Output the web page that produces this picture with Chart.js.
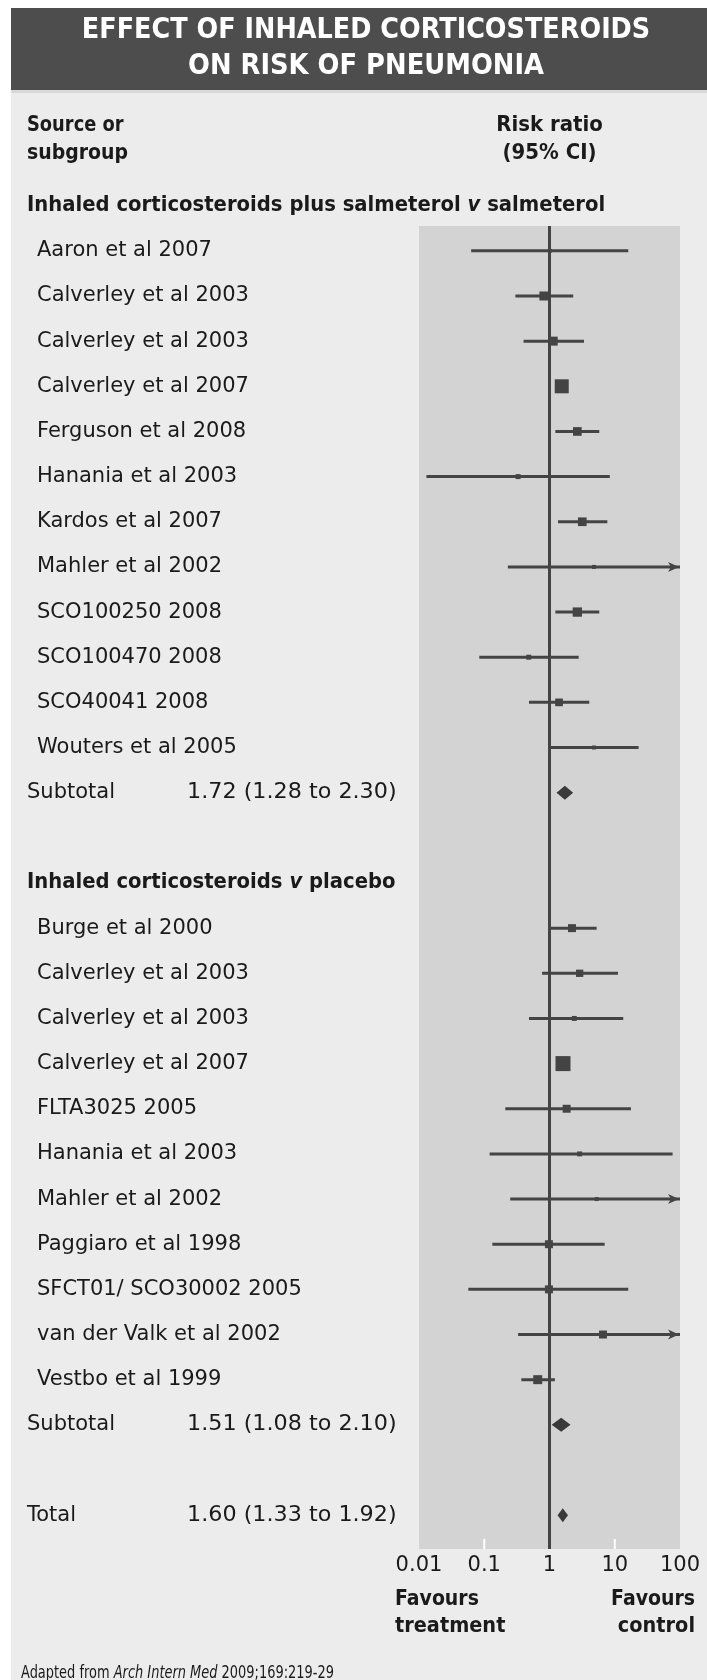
<!DOCTYPE html>
<html>
<head>
<meta charset="utf-8">
<script src="https://cdn.jsdelivr.net/npm/chart.js@4/dist/chart.umd.min.js"></script>
<style>
html,body{margin:0;padding:0;background:#fff}
canvas{display:block}
</style>
</head>
<body>
<canvas id="forest" width="707" height="1680"></canvas>
<script>
// values (risk ratio, lower and upper 95% CI, rough weight)
const groupTitles=[
[["Inhaled corticosteroids plus salmeterol ",0],["v",1],[" salmeterol",0]],
[["Inhaled corticosteroids ",0],["v",1],[" placebo",0]]
]

const group1Names=["Aaron et al 2007","Calverley et al 2003","Calverley et al 2003","Calverley et al 2007","Ferguson et al 2008","Hanania et al 2003","Kardos et al 2007","Mahler et al 2002","SCO100250 2008","SCO100470 2008","SCO40041 2008","Wouters et al 2005"]
const group1RR=[1.01,0.82,1.14,1.54,2.67,0.33,3.18,4.8,2.67,0.48,1.40,4.8]
const group1Lo=[0.063,0.30,0.40,1.30,1.23,0.013,1.35,0.23,1.23,0.084,0.485,1.0]
const group1Hi=[16.1,2.31,3.38,1.82,5.79,8.4,7.7,100,5.79,2.8,4.07,23.2]
const group1Weight=[1.1,5.6,5.6,13.6,5.2,1.7,5.2,1.1,6,1.7,4.1,1.1]

const group2Names=["Burge et al 2000","Calverley et al 2003","Calverley et al 2003","Calverley et al 2007","FLTA3025 2005","Hanania et al 2003","Mahler et al 2002","Paggiaro et al 1998","SFCT01/ SCO30002 2005","van der Valk et al 2002","Vestbo et al 1999"]
const group2RR=[2.21,2.9,2.4,1.61,1.83,2.9,5.28,0.98,0.98,6.6,0.66]
const group2Lo=[1.0,0.77,0.485,1.35,0.21,0.121,0.25,0.133,0.057,0.33,0.37]
const group2Hi=[5.28,11.2,13.5,1.95,17.7,77,100,7.0,16.1,100,1.21]
const group2Weight=[4.4,3.7,1.7,15.6,4.4,1.7,1.1,4.4,4.4,4.4,5.6]

const summaryLabels=["Subtotal","Subtotal","Total"]
const summaryRR=[1.72,1.51,1.60]
const summaryLo=[1.28,1.08,1.33]
const summaryHi=[2.30,2.10,1.92]

const tickValues=[0.01,0.1,1,10,100]
const tickLabels=["0.01","0.1","1","10","100"]

const names=[group1Names,group2Names]
const rr=[group1RR,group2RR]
const lo=[group1Lo,group2Lo]
const hi=[group1Hi,group2Hi]
const wt=[group1Weight,group2Weight]

const INK="#444"
const TEXT="#1a1a1a"
const REG='"DejaVu Sans", "Liberation Sans", sans-serif'

// row positions: header, studies, subtotal, blank line, next group..., total
let pos=-1
const layout=[]
groupTitles.forEach((g,gi)=>{
layout.push({kind:"head",y:pos,gi})
pos++
names[gi].forEach((n,i)=>{layout.push({kind:"study",y:pos,gi,i});pos++})
layout.push({kind:"sum",y:pos,si:gi})
pos+=2
})
layout.push({kind:"sum",y:pos,si:2})

const datasets=[]
const squares=[]
const squareSize=[]
layout.filter(r=>r.kind=="study").forEach(r=>{
datasets.push({
data:[{x:lo[r.gi][r.i],y:r.y},{x:hi[r.gi][r.i],y:r.y}],
showLine:true,borderColor:INK,borderWidth:3,pointRadius:0,borderCapStyle:"butt"
})
squares.push({x:rr[r.gi][r.i],y:r.y})
squareSize.push(3.8*Math.sqrt(wt[r.gi][r.i])/Math.SQRT2)
})
datasets.push({
data:squares,pointStyle:"rect",pointRadius:squareSize,
backgroundColor:INK,borderWidth:0
})

function txt(ctx,s,x,y,font,align,sx,color){
ctx.save()
ctx.font=font
ctx.fillStyle=color||TEXT
ctx.textAlign=align||"left"
ctx.textBaseline="middle"
ctx.translate(x,y)
ctx.scale(sx||1,1)
ctx.fillText(s,0,0)
ctx.restore()
}

function rich(ctx,parts,x,y,size,weight,sx,color){
let cx=x
parts.forEach(p=>{
let f=(p[1]?"italic ":"")+weight+" "+size+"px "+REG
txt(ctx,p[0],cx,y,f,"left",sx,color)
ctx.font=f
cx+=ctx.measureText(p[0]).width*sx
})
}

const forestPlugin={
id:"forest",
beforeDraw(chart){
const {ctx,chartArea:a,width,height}=chart
ctx.save()
ctx.fillStyle="#fff"
ctx.fillRect(0,0,width,height)
ctx.fillStyle="#ececec"
ctx.fillRect(11,8,width-11,height-8)
ctx.fillStyle="#4d4d4d"
ctx.fillRect(11,8,width-11,82)
ctx.fillStyle="#d8d8d8"
ctx.fillRect(11,90,width-11,3)
ctx.fillStyle="#d3d3d3"
ctx.fillRect(a.left,a.top,a.right-a.left,a.bottom-a.top)
ctx.restore()
},
beforeDatasetsDraw(chart){
const {ctx,chartArea:a,scales:{x}}=chart
ctx.save()
ctx.strokeStyle="#fff"
ctx.lineWidth=2
;[0.1,10].forEach(v=>{
let px=x.getPixelForValue(v)
ctx.beginPath()
ctx.moveTo(px,a.bottom-10)
ctx.lineTo(px,a.bottom)
ctx.stroke()
})
let p1=x.getPixelForValue(1)
ctx.strokeStyle=INK
ctx.lineWidth=3
ctx.beginPath()
ctx.moveTo(p1,a.top)
ctx.lineTo(p1,a.bottom)
ctx.stroke()
ctx.restore()
},
afterDatasetsDraw(chart){
const {ctx,scales:{x,y}}=chart
ctx.save()
ctx.fillStyle=INK
layout.forEach(r=>{
if(r.kind=="study"&&hi[r.gi][r.i]>=x.max){
let tx=x.getPixelForValue(x.max)-1
let ty=y.getPixelForValue(r.y)
ctx.beginPath()
ctx.moveTo(tx,ty)
ctx.lineTo(tx-11,ty-5)
ctx.lineTo(tx-8,ty)
ctx.lineTo(tx-11,ty+5)
ctx.closePath()
ctx.fill()
}
if(r.kind=="sum"){
let cy=y.getPixelForValue(r.y)
let l=x.getPixelForValue(summaryLo[r.si])
let c=x.getPixelForValue(summaryRR[r.si])
let h=x.getPixelForValue(summaryHi[r.si])
ctx.fillStyle="#3a3a3a"
ctx.beginPath()
ctx.moveTo(l,cy)
ctx.lineTo(c,cy-7)
ctx.lineTo(h,cy)
ctx.lineTo(c,cy+7)
ctx.closePath()
ctx.fill()
ctx.fillStyle=INK
}
})
ctx.restore()
},
afterDraw(chart){
const {ctx,chartArea:a,scales:{x,y}}=chart
const reg="21px "+REG
const bold="bold 21px "+REG
const mid=x.getPixelForValue(1)

txt(ctx,"EFFECT OF INHALED CORTICOSTEROIDS",366,30,"bold 29px "+REG,"center",0.88,"#fff")
txt(ctx,"ON RISK OF PNEUMONIA",366,66,"bold 29px "+REG,"center",0.89,"#fff")

txt(ctx,"Source or",27,126,bold,"left",0.85)
txt(ctx,"subgroup",27,154,bold,"left",0.9)
txt(ctx,"Risk ratio",mid,126,bold,"center",0.94)
txt(ctx,"(95% CI)",mid,154,bold,"center",0.94)

layout.forEach(r=>{
let py=y.getPixelForValue(r.y)
if(r.kind=="head") rich(ctx,groupTitles[r.gi],27,py,21,"bold",0.935,TEXT)
if(r.kind=="study") txt(ctx,names[r.gi][r.i],37,py,reg)
if(r.kind=="sum"){
let s=r.si
txt(ctx,summaryLabels[s],27,py,reg)
txt(ctx,summaryRR[s].toFixed(2)+" ("+summaryLo[s].toFixed(2)+" to "+summaryHi[s].toFixed(2)+")",187,py,reg,"left",1.06)
}
})

txt(ctx,"Favours",395,1600,bold,"left",0.9)
txt(ctx,"treatment",395,1627,bold,"left",0.92)
txt(ctx,"Favours",695,1600,bold,"right",0.9)
txt(ctx,"control",695,1627,bold,"right",0.92)

rich(ctx,[["Adapted from ",0],["Arch Intern Med",1],[" 2009;169:219-29",0]],21,1673,18,"normal",0.72,TEXT)
}
}

new Chart(document.getElementById("forest"),{
type:"scatter",
data:{datasets:datasets},
plugins:[forestPlugin],
options:{
responsive:false,
animation:false,
layout:{padding:{left:419,right:27,top:226,bottom:91}},
plugins:{legend:{display:false},tooltip:{enabled:false}},
scales:{
x:{
type:"logarithmic",
min:0.01,
max:100,
grid:{display:false,drawTicks:false},
border:{display:false},
afterBuildTicks(scale){scale.ticks=tickValues.map(v=>({value:v}))},
afterFit(scale){scale.height=40},
ticks:{
autoSkip:false,maxRotation:0,padding:4,color:TEXT,
font:{family:REG,size:21},
callback:(v,i)=>tickLabels[i]
}
},
y:{
type:"linear",
display:false,
reverse:true,
min:-0.55,
max:28.75
}
}
}
})
</script>
</body>
</html>
